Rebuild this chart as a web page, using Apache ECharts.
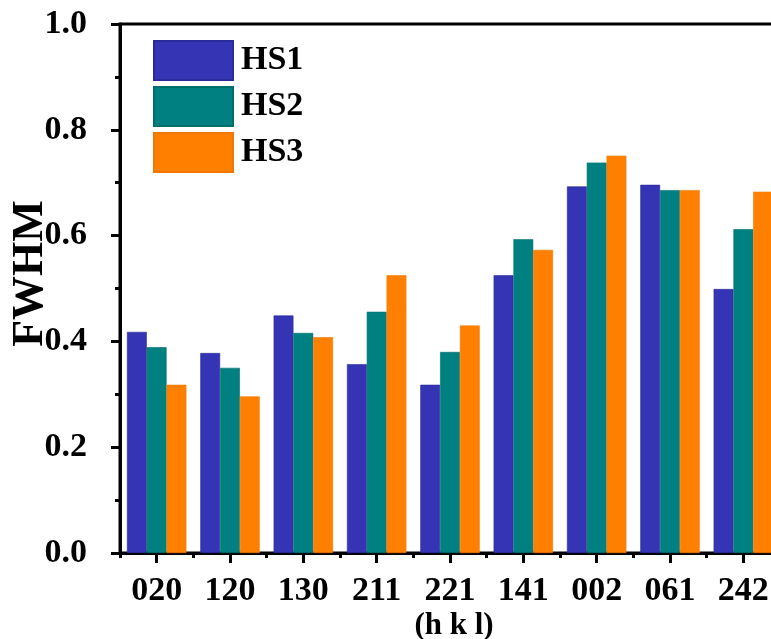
<!DOCTYPE html>
<html>
<head>
<meta charset="utf-8">
<script src="https://cdn.jsdelivr.net/npm/echarts@6/dist/echarts.min.js"></script>
<style>
  html, body { margin: 0; padding: 0; background: #fff; }
  #chart { width: 771px; height: 639px; }
</style>
</head>
<body>
<div id="chart"></div>
<script>
// Reflection planes (h k l)
const categories = ['020', '120', '130', '211', '221', '141', '002', '061', '242'];

// FWHM per sample
const hs1 = [0.418, 0.378, 0.449, 0.357, 0.318, 0.525, 0.693, 0.696, 0.499];
const hs2 = [0.389, 0.350, 0.416, 0.456, 0.380, 0.593, 0.738, 0.686, 0.612];
const hs3 = [0.318, 0.296, 0.408, 0.525, 0.430, 0.573, 0.751, 0.686, 0.683];

const yTicks = [0, 0.2, 0.4, 0.6, 0.8, 1.0];

const FONT = '"Liberation Serif", "Times New Roman", serif';
const colors = ['#3434B4', '#008080', '#FF8000'];
const borders = ['#2a2a9a', '#006e6b', '#f07800'];

function barSeries(name, data, i) {
  return {
    name: name,
    type: 'bar',
    data: data,
    barGap: '0%',
    barCategoryGap: '19%',
    itemStyle: { color: colors[i], borderColor: borders[i], borderWidth: 0.6 }
  };
}

const chart = echarts.init(document.getElementById('chart'), null, { renderer: 'canvas' });

chart.setOption({
  animation: false,
  backgroundColor: '#fff',
  grid: {
    left: 120, width: 660, top: 24, height: 529,
    outerBoundsMode: 'none',
    containLabel: false,
    show: true, borderColor: '#000', borderWidth: 3, backgroundColor: 'transparent'
  },
  legend: {
    orient: 'vertical',
    left: 153, top: 40,
    padding: 0,
    icon: 'rect',
    itemWidth: 79, itemHeight: 39, itemGap: 5,
    textStyle: { fontFamily: FONT, fontWeight: 'bold', fontSize: 34, color: '#000', padding: [0, 0, 0, 3] },
    data: ['HS1', 'HS2', 'HS3']
  },
  xAxis: [
    {
      type: 'category',
      data: categories,
      position: 'bottom',
      name: '(h k l)',
      nameLocation: 'middle',
      nameGap: 57,
      nameMoveOverlap: false,
      nameTextStyle: { fontFamily: FONT, fontWeight: 'bold', fontSize: 31, color: '#000', padding: [0, 0, 0, 8] },
      axisLine: { show: true, lineStyle: { color: '#000', width: 3 } },
      axisTick: { show: true, alignWithLabel: true, inside: false, length: 10, lineStyle: { color: '#000', width: 3 } },
      axisLabel: { fontFamily: FONT, fontWeight: 'bold', fontSize: 34, color: '#000', margin: 21 },
      splitLine: { show: false }
    },
    {
      // short ticks on category boundaries
      type: 'category',
      data: categories,
      position: 'bottom',
      axisLine: { show: false },
      axisTick: { show: true, alignWithLabel: false, length: 5, lineStyle: { color: '#000', width: 3 } },
      axisLabel: { show: false },
      splitLine: { show: false }
    }
  ],
  yAxis: {
    type: 'value',
    min: 0, max: 1, interval: 0.2,
    name: 'FWHM',
    nameLocation: 'middle',
    nameGap: 67,
    nameMoveOverlap: false,
    nameRotate: 90,
    nameTextStyle: { fontFamily: FONT, fontWeight: 'bold', fontSize: 44, color: '#000', padding: [0, 0, 0, 30] },
    axisLine: { show: true, lineStyle: { color: '#000', width: 3 } },
    axisTick: { show: true, length: 9, lineStyle: { color: '#000', width: 3 } },
    minorTick: { show: true, splitNumber: 2, length: 5, lineStyle: { color: '#000', width: 3 } },
    axisLabel: {
      fontFamily: FONT, fontWeight: 'bold', fontSize: 34, color: '#000', margin: 33,
      formatter: function (v) {
        const t = yTicks.find(function (x) { return Math.abs(x - v) < 1e-9; });
        return t === undefined ? '' : t.toFixed(1);
      }
    },
    splitLine: { show: false }
  },
  series: [
    barSeries('HS1', hs1, 0),
    barSeries('HS2', hs2, 1),
    barSeries('HS3', hs3, 2)
  ]
});
</script>
</body>
</html>
